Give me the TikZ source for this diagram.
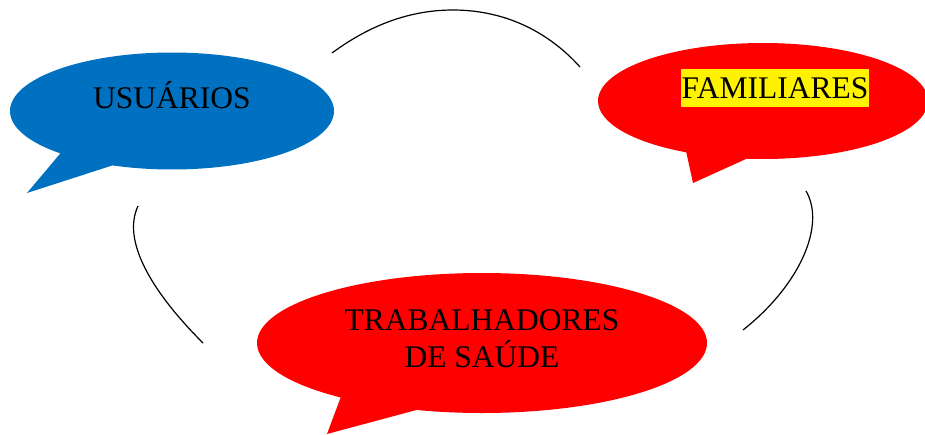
\documentclass[tikz,border=0pt]{standalone}
\usepackage{fontspec}
\setmainfont{Liberation Serif}
\usetikzlibrary{shapes.callouts}
\definecolor{bubbleblue}{RGB}{0,112,192}
\begin{document}
\begin{tikzpicture}[x=1pt,y=-1pt,
   bubble/.style={ellipse callout, inner sep=0pt, callout pointer arc=22},
   bubbletext/.style={font=\fontsize{31.5}{37}\selectfont, inner sep=0pt, align=center},
   link/.style={line width=1.2pt}]
   \useasboundingbox (0,0) rectangle (925,434);
   \node (U) [bubble, fill=bubbleblue, minimum width=324pt, minimum height=117pt,
              callout absolute pointer={(27,193)}] at (172,111) {};
   \node (F) [bubble, fill=red, minimum width=330pt, minimum height=116pt,
              callout absolute pointer={(693,183)}] at (763,101) {};
   \node (T) [bubble, fill=red, minimum width=450pt, minimum height=140pt,
              callout absolute pointer={(327,434)}] at (482,343) {};

   \node (usu) [bubbletext, anchor=base] at (172,108) {USUÁRIOS};
   \node (fam) [bubbletext, fill=yellow, text height=28pt, text depth=7pt,
                inner xsep=1pt, inner ysep=1.5pt, anchor=base] at (775,98) {FAMILIARES};
   \node (trab) [bubbletext] at (482,339) {TRABALHADORES\\DE SAÚDE};

   \coordinate (top1) at (332,53);  \coordinate (topmid) at (453,10);  \coordinate (top2) at (580,67);
   \coordinate (left1) at (138,206); \coordinate (left2) at (203,343);
   \coordinate (right1) at (806,191); \coordinate (right2) at (743,330);
   \draw[link] (top1) .. controls (370,25) and (410,10) .. (topmid)
                      .. controls (500,10) and (545,28) .. (top2);
   \draw[link] (left1) .. controls (122,240) and (150,290) .. (left2);
   \draw[link] (right1) .. controls (826,225) and (800,285) .. (right2);
\end{tikzpicture}
\end{document}
